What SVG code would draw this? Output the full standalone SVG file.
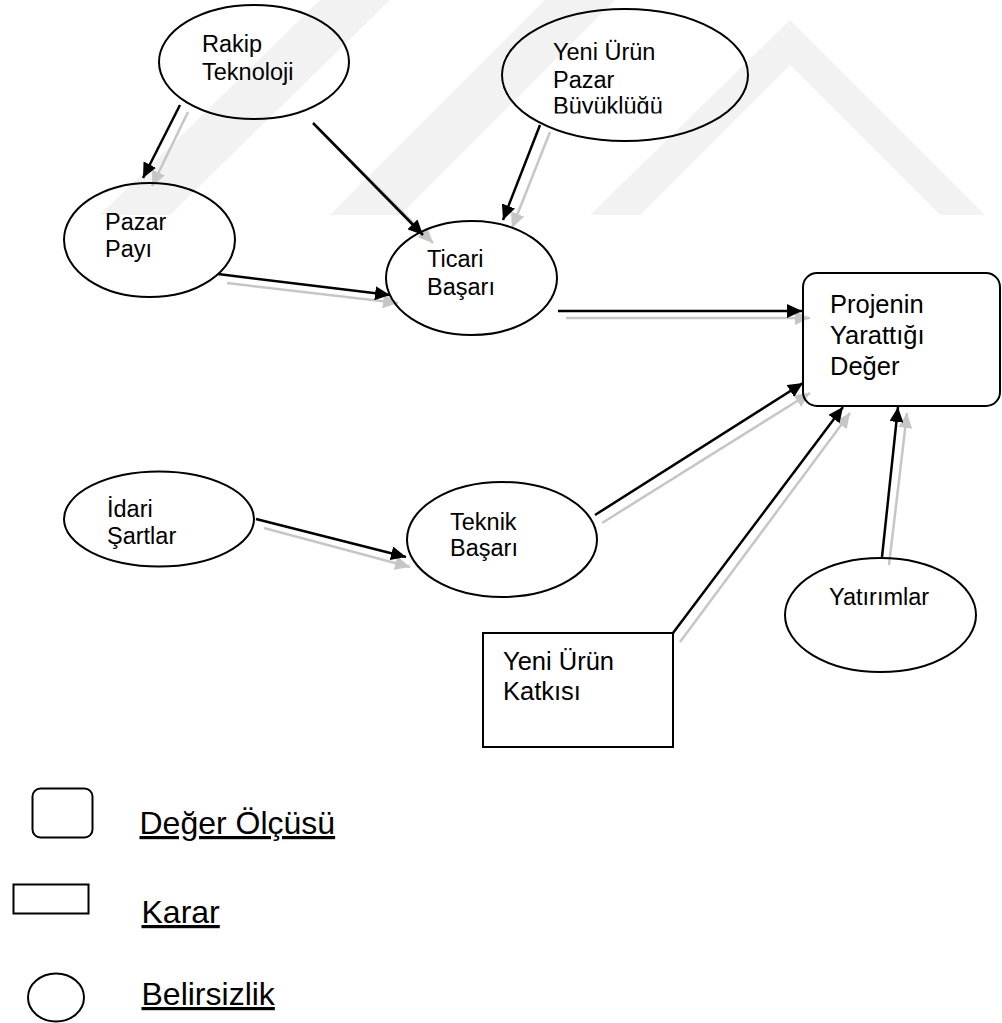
<svg xmlns="http://www.w3.org/2000/svg" width="1002" height="1023" viewBox="0 0 1002 1023">
<style>
.bg{fill:#ffffff}
.wm{fill:#f2f2f2}
.nd{fill:none;stroke:#000;stroke-width:2}
.t{font-family:"Liberation Sans",Arial,sans-serif;font-size:23.5px;fill:#000}
.tb{font-family:"Liberation Sans",Arial,sans-serif;font-size:25.5px;fill:#000}
.lg{font-family:"Liberation Sans",Arial,sans-serif;font-size:32px;fill:#000;text-decoration:underline}
.bk{stroke:#000;stroke-width:2.5;fill:none;marker-end:url(#ab)}
.gr{stroke:#c6c6c6;stroke-width:2.5;fill:none;marker-end:url(#ag)}
</style>
<defs>
<marker id="ab" markerUnits="userSpaceOnUse" markerWidth="16" markerHeight="14" refX="15" refY="7" orient="auto"><path d="M0,0 L15,7 L0,14 z" fill="#000"/></marker>
<marker id="ag" markerUnits="userSpaceOnUse" markerWidth="16" markerHeight="14" refX="15" refY="7" orient="auto"><path d="M0,0 L15,7 L0,14 z" fill="#c6c6c6"/></marker>
<clipPath id="clipY"><rect x="500" y="0" width="260" height="113.5"/></clipPath>
</defs>
<rect class="bg" x="0" y="0" width="1002" height="1023"/>
<g id="watermark">
<polygon class="wm" points="100,215 170,215 390,0 320,0"/>
<polygon class="wm" points="330,215 400,215 615,0 545,0"/>
<polygon class="wm" points="590,215 790,20 985,215 940,215 790,65 640,215"/>
</g>
<g id="connectors">
<line class="gr" x1="188" y1="112" x2="152" y2="186"/>
<line class="bk" x1="180" y1="105" x2="143" y2="178"/>
<line class="gr" x1="320" y1="130" x2="433" y2="243"/>
<line class="bk" x1="313" y1="123" x2="423" y2="235"/>
<line class="gr" x1="550" y1="132" x2="512" y2="228"/>
<line class="bk" x1="540" y1="125" x2="503" y2="220"/>
<line class="gr" x1="227" y1="283" x2="398" y2="303"/>
<line class="bk" x1="218" y1="274" x2="390" y2="295"/>
<line class="gr" x1="566" y1="318" x2="810" y2="318"/>
<line class="bk" x1="558" y1="311" x2="802" y2="311"/>
<line class="gr" x1="264" y1="528" x2="410" y2="567"/>
<line class="bk" x1="256" y1="519" x2="406" y2="557"/>
<line class="gr" x1="602" y1="523" x2="810" y2="393"/>
<line class="bk" x1="595" y1="515" x2="803" y2="383"/>
<line class="gr" x1="680" y1="642" x2="850" y2="413"/>
<line class="bk" x1="673" y1="633" x2="843" y2="407"/>
<line class="gr" x1="889" y1="565" x2="907" y2="413"/>
<line class="bk" x1="882" y1="557" x2="898" y2="407"/>
</g>
<g id="rakip-teknoloji">
<ellipse class="nd" cx="254" cy="62" rx="95" ry="57"/>
<text class="t" x="202" y="52">Rakip</text>
<text class="t" x="202" y="80">Teknoloji</text>
</g>
<g id="yeni-urun-pazar">
<ellipse class="nd" cx="625" cy="75" rx="123" ry="66"/>
<g clip-path="url(#clipY)">
<text class="t" x="553" y="60">Yeni Ürün</text>
<text class="t" x="553" y="88">Pazar</text>
<text class="t" x="553" y="114">Büyüklüğü</text>
</g>
</g>
<g id="pazar-payi">
<ellipse class="nd" cx="149.5" cy="240" rx="85.5" ry="57"/>
<text class="t" x="105" y="230">Pazar</text>
<text class="t" x="105" y="257">Payı</text>
</g>
<g id="ticari-basari">
<ellipse class="nd" cx="471.5" cy="278" rx="85.5" ry="57"/>
<text class="t" x="427" y="267">Ticari</text>
<text class="t" x="427" y="295">Başarı</text>
</g>
<g id="projenin-yarattigi-deger">
<rect class="nd" x="803" y="273" width="197" height="133" rx="14" ry="14"/>
<text class="tb" x="830" y="313">Projenin</text>
<text class="tb" x="830" y="344">Yarattığı</text>
<text class="tb" x="830" y="375">Değer</text>
</g>
<g id="idari-sartlar">
<ellipse class="nd" cx="159" cy="519" rx="95" ry="47.5"/>
<text class="t" x="107" y="517">İdari</text>
<text class="t" x="107" y="544">Şartlar</text>
</g>
<g id="teknik-basari">
<ellipse class="nd" cx="502" cy="539.5" rx="95" ry="57.5"/>
<text class="t" x="450" y="530">Teknik</text>
<text class="t" x="450" y="556">Başarı</text>
</g>
<g id="yatirimlar">
<ellipse class="nd" cx="880.5" cy="615" rx="95.5" ry="57"/>
<text class="t" x="829" y="605">Yatırımlar</text>
</g>
<g id="yeni-urun-katkisi">
<rect class="nd" x="483" y="633" width="190" height="114"/>
<text class="tb" x="503" y="670">Yeni Ürün</text>
<text class="tb" x="503" y="700">Katkısı</text>
</g>
<g id="legend">
<rect class="nd" x="32.5" y="788.5" width="60" height="49" rx="8" ry="8"/>
<text class="lg" x="139.5" y="834">Değer Ölçüsü</text>
<rect class="nd" x="13.5" y="884.5" width="75" height="29"/>
<text class="lg" x="141.5" y="923">Karar</text>
<ellipse class="nd" cx="56" cy="997.5" rx="28" ry="24"/>
<text class="lg" x="141.5" y="1005">Belirsizlik</text>
</g>
</svg>
